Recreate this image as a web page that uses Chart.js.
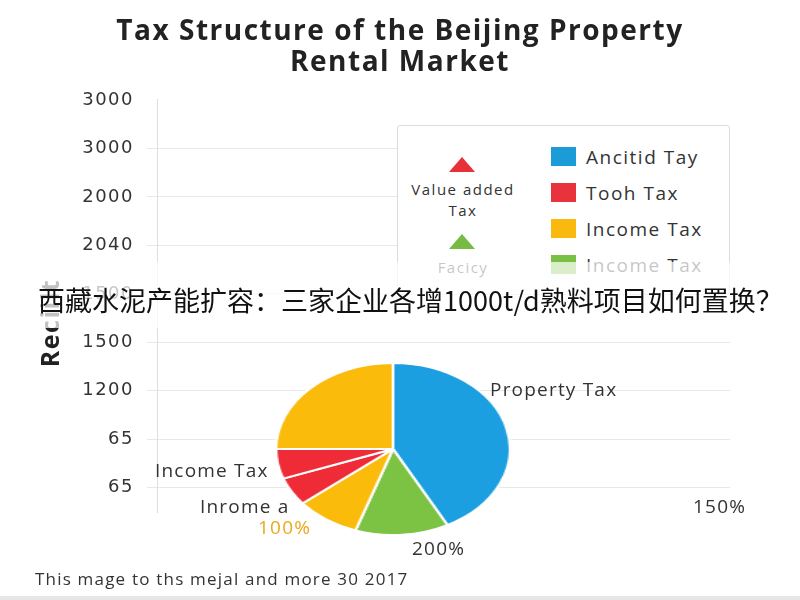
<!DOCTYPE html>
<html><head><meta charset="utf-8">
<script src="https://cdn.jsdelivr.net/npm/chart.js"></script>
<style>
html,body{margin:0;padding:0;background:#fff;}
#wrap{position:relative;width:800px;height:600px;overflow:hidden;background:#fff;font-family:'Open Sans',sans-serif;}
#main{position:absolute;left:0;top:0;}
#legendBox{position:absolute;left:397px;top:125px;width:333px;height:170px;border:1.5px solid #dcdcdc;border-radius:3px;background:#fff;box-sizing:border-box;}
#pie{position:absolute;left:306px;top:362px;transform:scaleX(1.36);transform-origin:50% 50%;}
.t{position:absolute;white-space:nowrap;color:#333;line-height:1;}
.tri{position:absolute;width:0;height:0;border-left:13px solid transparent;border-right:13px solid transparent;border-bottom:15px solid;}
.sq{position:absolute;width:25px;height:19px;}
#band{position:absolute;left:0;top:262px;width:800px;height:66px;background:rgba(255,255,255,0.72);}
#banner{position:absolute;left:38px;top:282px;height:36px;line-height:36px;font-family:'Noto Sans CJK SC',sans-serif;font-size:27px;color:#111;white-space:nowrap;}
#strip{position:absolute;left:0;top:596px;width:800px;height:4px;background:#e6e6e6;}
</style></head>
<body><div id="wrap">
<canvas id="main" width="800" height="600"></canvas>
<div id="legendBox"></div>
<div id="legendItems"></div>
<canvas id="pie" width="174" height="174"></canvas>
<div id="labels"></div>
<div id="band"></div>
<div id="banner"></div>
<div id="strip"></div>
</div>
<script>
// ---- data ----
const titleLines = ['Tax Structure of the Beijing Property', 'Rental Market'];
const yTickLabels = ['3000', '3000', '2000', '2040', '1500', '1500', '1200', '65', '65'];
const yAxisTitle = 'Reciilt';
const pieCategories = ['Property Tax', 'Facicy', 'Income Tax', 'Tooh Tax', 'Value added Tax', 'Income Tax'];
const pieValues = [42.3, 12.9, 8.9, 5.3, 5.6, 25.0];
const legendTriangleLabels = [['Value added', 'Tax'], ['Facicy']];
const legendSquareLabels = ['Ancitid Tay', 'Tooh Tax', 'Income Tax', 'Income Tax'];
const pieLabelTexts = ['Property Tax', 'Income Tax', 'Inrome a', '100%', '200%', '150%'];
const bannerText = '西藏水泥产能扩容：三家企业各增1000t/d熟料项目如何置换？';
const footnoteText = 'This mage to ths mejal and more 30 2017';

// ---- styles ----
const pieColors = ['#1b9fe0', '#7cc243', '#fbbb0b', '#ee2b36', '#ee2b36', '#fbbb0b'];
const squareColors = ['#1b9bd7', '#e8323c', '#f9b90e', '#7ac143'];
const triangleColors = ['#e8303a', '#77bb44'];

const spacingPlugin = {
  id: 'spacing',
  beforeDraw(chart) { chart.ctx.letterSpacing = '1.5px'; }
};
const axisTitlePlugin = {
  id: 'axisTitle',
  afterDraw(chart) {
    const ctx = chart.ctx;
    ctx.save();
    ctx.translate(52, 323);
    ctx.rotate(-Math.PI / 2);
    ctx.font = 'bold 25px "Open Sans"';
    ctx.fillStyle = '#222';
    ctx.textAlign = 'center';
    ctx.textBaseline = 'middle';
    ctx.fillText(yAxisTitle, 0, 0);
    ctx.restore();
  }
};

new Chart(document.getElementById('main'), {
  type: 'scatter',
  data: { datasets: [{ data: [] }] },
  options: {
    responsive: false,
    animation: false,
    layout: { padding: { left: 0, right: 0, top: 0, bottom: 88 } },
    plugins: {
      legend: { display: false },
      tooltip: { enabled: false },
      title: {
        display: true,
        text: titleLines,
        color: '#222',
        font: { family: 'Open Sans', size: 28, weight: 'bold', lineHeight: 1.107 },
        padding: { top: 16.5, bottom: 21.5 }
      }
    },
    scales: {
      x: { display: false, min: 0, max: 1 },
      y: {
        min: 0, max: 8.5, reverse: true,
        afterFit(scale) { scale.width = 157; },
        ticks: {
          stepSize: 1, includeBounds: false, padding: 13,
          color: '#333',
          font: { family: 'DejaVu Sans', size: 18 },
          callback: (v) => yTickLabels[v]
        },
        grid: {
          tickLength: 10,
          color: (c) => (c.tick && c.tick.value === 0) ? 'rgba(0,0,0,0)' : '#e8e8e8',
          lineWidth: 1
        },
        border: { display: true, color: '#dedede', width: 1 }
      },
      yRight: {
        position: 'right',
        min: 0, max: 8.5,
        afterFit(scale) { scale.width = 70; },
        ticks: { display: false },
        grid: { display: false, drawTicks: false },
        border: { display: false }
      }
    }
  },
  plugins: [spacingPlugin, axisTitlePlugin]
});

new Chart(document.getElementById('pie'), {
  type: 'pie',
  data: {
    labels: pieCategories,
    datasets: [{ data: pieValues, backgroundColor: pieColors, borderColor: '#fff', borderWidth: 2 }]
  },
  options: {
    responsive: false,
    animation: false,
    layout: { padding: 0 },
    plugins: { legend: { display: false }, tooltip: { enabled: false } }
  }
});

// ---- legend & labels ----
function addText(parent, text, left, cy, size, color, center, spacing) {
  const d = document.createElement('div');
  d.className = 't';
  d.textContent = text;
  d.style.fontSize = size + 'px';
  d.style.left = left + 'px';
  d.style.top = (cy - size / 2) + 'px';
  d.style.height = size + 'px';
  d.style.letterSpacing = (spacing || 0) + 'px';
  if (color) d.style.color = color;
  if (center) d.style.transform = 'translateX(-50%)';
  parent.appendChild(d);
  return d;
}
const li = document.getElementById('legendItems');
const triTops = [157, 234];
const triTextY = [[189, 210], [267]];
legendTriangleLabels.forEach((lines, i) => {
  const t = document.createElement('div');
  t.className = 'tri';
  t.style.left = '449px';
  t.style.top = triTops[i] + 'px';
  t.style.borderBottomColor = triangleColors[i];
  li.appendChild(t);
  lines.forEach((ln, j) => addText(li, ln, 463, triTextY[i][j], 15, '#333', true, 1.5));
});
const sqTops = [147, 183, 219, 255];
legendSquareLabels.forEach((lab, i) => {
  const s = document.createElement('div');
  s.className = 'sq';
  s.style.left = '551px';
  s.style.top = sqTops[i] + 'px';
  s.style.background = squareColors[i];
  li.appendChild(s);
  addText(li, lab, 586, sqTops[i] + 10, 19, '#333', false, 1.5);
});

const lb = document.getElementById('labels');
const pieLabelPos = [[490, 389], [155, 470], [200, 506], [258, 527], [412, 548], [693, 506]];
const pieLabelColors = ['#333', '#333', '#333', '#eaa91a', '#333', '#333'];
pieLabelTexts.forEach((txt, i) => addText(lb, txt, pieLabelPos[i][0], pieLabelPos[i][1], 19, pieLabelColors[i], false, 1.2));
addText(lb, footnoteText, 35, 578, 17, '#333', false, 1.2);

document.getElementById('banner').textContent = bannerText;
</script>
</body></html>
